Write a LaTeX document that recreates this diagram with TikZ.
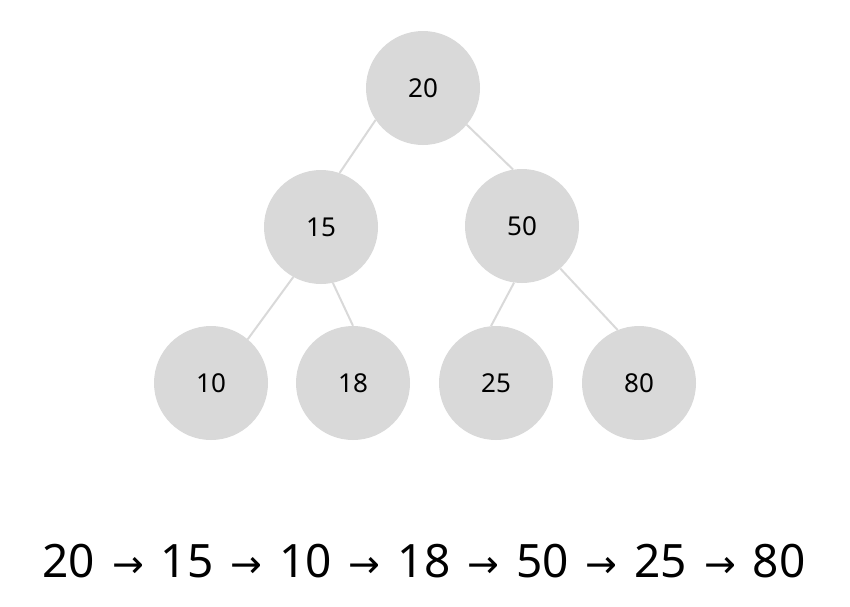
\documentclass[tikz,border=0pt]{standalone}
\usepackage{fontspec}
\setmainfont{Noto Sans}
\newfontfamily\arrowfont{DejaVu Sans}
\newcommand{\seqarrow}{\hspace{5pt}{\arrowfont\fontsize{38}{46}\selectfont →}\hspace{5pt}}
\begin{document}
\begin{tikzpicture}[x=1pt,y=-1pt,
  vnode/.style={circle,fill=nodegray,draw=none,minimum size=114pt,inner sep=0pt,font=\fontsize{26}{30}\selectfont},
  link/.style={draw=nodegray,line width=2pt}]
\definecolor{nodegray}{HTML}{D9D9D9}
\useasboundingbox (0,0) rectangle (850,606);
\node[vnode] (n20) at (423,88) {20};
\node[vnode] (n15) at (321,227) {15};
\node[vnode] (n50) at (522,226) {50};
\node[vnode] (n10) at (211,383) {10};
\node[vnode] (n18) at (353,383) {18};
\node[vnode] (n25) at (496,383) {25};
\node[vnode] (n80) at (639,383) {80};
\path[link] (n20.214) -- (n15.71);
\path[link] (n20.-40) -- (n50.99);
\path[link] (n15.241) -- (n10.50);
\path[link] (n15.-78) -- (n18.90);
\path[link] (n50.-98) -- (n25.95);
\path[link] (n50.-48) -- (n80.112);
\node[font=\fontsize{46}{54}\selectfont] (seq) at (424,561) {20 \seqarrow{} 15 \seqarrow{} 10 \seqarrow{} 18 \seqarrow{} 50 \seqarrow{} 25 \seqarrow{} 80};
\end{tikzpicture}
\end{document}
